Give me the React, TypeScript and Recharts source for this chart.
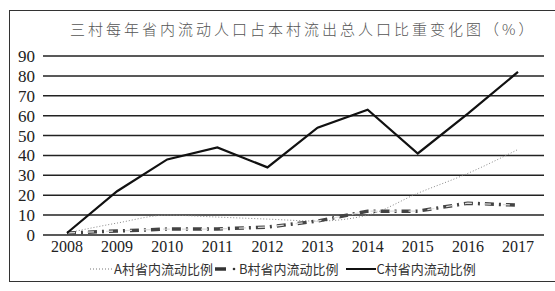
import { CartesianGrid, Line, LineChart, XAxis, YAxis } from "recharts";

const TITLE = "三村每年省内流动人口占本村流出总人口比重变化图（%）";
const years = ["2008", "2009", "2010", "2011", "2012", "2013", "2014", "2015", "2016", "2017"];
const villageA = [1, 6, 10, 9, 8, 7, 10, 21, 31, 43];
const villageB = [1, 2, 3, 3, 4, 7, 12, 12, 16, 15];
const villageC = [1, 22, 38, 44, 34, 54, 63, 41, 61, 82];
const yTicks = [0, 10, 20, 30, 40, 50, 60, 70, 80, 90];
const legendNames = ["A村省内流动比例", "B村省内流动比例", "C村省内流动比例"];

const rows = years.map((y, i) => ({ year: y, a: villageA[i], b: villageB[i], c: villageC[i] }));

const SERIF = "'Liberation Serif', 'DejaVu Serif', serif";
const CJK = "'Noto Sans CJK SC', sans-serif";

function LegendKey({ kind }: { kind: string }) {
  if (kind === "a") {
    return (
      <svg width={24} height={8}>
        <line x1={0} y1={4} x2={24} y2={4} stroke="#777" strokeWidth={1} strokeDasharray="1 2" />
      </svg>
    );
  }
  if (kind === "b") {
    return (
      <svg width={24} height={8}>
        <line x1={0} y1={4} x2={11} y2={4} stroke="#333" strokeWidth={3.5} />
        <circle cx={19} cy={4} r={1.3} fill="#333" />
      </svg>
    );
  }
  return (
    <svg width={30} height={8}>
      <line x1={0} y1={4} x2={30} y2={4} stroke="#111" strokeWidth={2} />
    </svg>
  );
}

export default function App() {
  return (
    <div style={{ position: "fixed", left: 0, top: 0, width: 555, height: 291, background: "#fff", overflow: "hidden" }}>
      <div
        style={{
          position: "absolute",
          left: 9,
          top: 10,
          width: 600,
          height: 270,
          borderLeft: "1.5px solid #333",
          borderTop: "1.5px solid #333",
          borderBottom: "1.5px solid #333",
        }}
      />
      <div
        style={{
          position: "absolute",
          left: 70,
          top: 18,
          width: 456,
          textAlign: "center",
          fontFamily: CJK,
          fontSize: 15,
          fontWeight: 300,
          letterSpacing: 3,
          color: "#555",
          whiteSpace: "nowrap",
        }}
      >
        {TITLE}
      </div>
      <div style={{ position: "absolute", left: 0, top: 0, fontFamily: SERIF }}>
        <LineChart
          width={555}
          height={291}
          data={rows}
          style={{ fontFamily: SERIF }}
          margin={{ top: 56, right: 11, bottom: 36, left: 8 }}
        >
          <CartesianGrid vertical={false} stroke="#222" strokeWidth={1.5} />
          <XAxis
            dataKey="year"
            axisLine={false}
            tickLine={false}
            height={20}
            tickMargin={0}
            interval={0}
            padding={{ left: 24, right: 26 }}
            tick={{ fontSize: 16, fill: "#222", fontFamily: SERIF }}
          />
          <YAxis
            domain={[0, 90]}
            ticks={yTicks}
            interval={0}
            width={35}
            axisLine={false}
            tickLine={false}
            tick={{ fontSize: 17, fill: "#222", fontFamily: SERIF }}
          />
          <Line type="monotone" dataKey="a" stroke="#888" strokeWidth={1} strokeDasharray="1 2" dot={false} isAnimationActive={false} />
          <Line type="linear" dataKey="b" stroke="#444" strokeWidth={3.5} strokeDasharray="9 5 2 5" dot={false} isAnimationActive={false} />
          <Line type="linear" dataKey="b" stroke="#ddd" strokeWidth={1.2} strokeDasharray="0 1 7 1 0 10" dot={false} isAnimationActive={false} legendType="none" />
          <Line type="linear" dataKey="c" stroke="#111" strokeWidth={2.2} dot={false} isAnimationActive={false} />
        </LineChart>
      </div>
      <div
        style={{
          position: "absolute",
          left: 90,
          top: 259,
          display: "flex",
          alignItems: "center",
          fontFamily: CJK,
          fontSize: 13,
          color: "#333",
          whiteSpace: "nowrap",
        }}
      >
        <LegendKey kind="a" />
        <span style={{ marginRight: 2 }}>{legendNames[0]}</span>
        <LegendKey kind="b" />
        <span style={{ marginRight: 8 }}>{legendNames[1]}</span>
        <LegendKey kind="c" />
        <span>{legendNames[2]}</span>
      </div>
    </div>
  );
}
